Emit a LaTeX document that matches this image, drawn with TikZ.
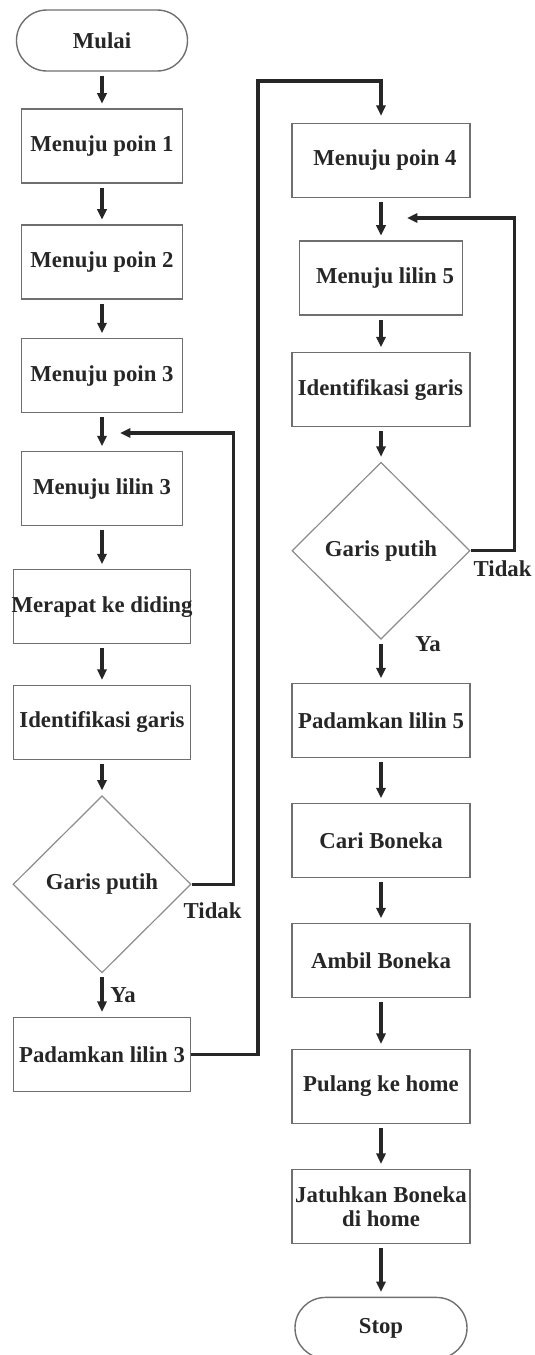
\documentclass[tikz,border=0pt]{standalone}
\usepackage{fontspec}
\setmainfont{Liberation Serif}
\usetikzlibrary{shapes.geometric,arrows.meta}
\definecolor{ink}{HTML}{262626}
\definecolor{edge}{HTML}{6F6F6F}
\begin{document}
\begin{tikzpicture}[x=0.25mm, y=-0.25mm, node distance=29mm,
  font=\bfseries\fontsize{16.2}{17}\selectfont, text=ink,
  >={Triangle[length=2.6mm,width=2.3mm]},
  box/.style={rectangle, draw=edge, line width=0.35mm, minimum width=40.25mm, minimum height=18.5mm, inner xsep=0.5mm},
  wide/.style={box, minimum width=44.25mm},
  term/.style={rectangle, rounded corners=7.6mm, draw=edge, line width=0.35mm, minimum width=42.75mm, minimum height=15.25mm},
  dec/.style={diamond, aspect=1, draw=edge!80, line width=0.3mm, minimum width=44.5mm, minimum height=44.25mm, inner sep=0pt},
  flow/.style={->, draw=ink, line width=0.85mm, shorten >=1.2mm, shorten <=1mm},
  back/.style={->, draw=ink, line width=0.85mm}]
  \useasboundingbox (0,0) rectangle (534,1355);
  % left column
  \node[term] (start) at (102,40.5) {Mulai};
  \node[box, below of=start, node distance=26.4mm] (p1) {Menuju poin 1};
  \node[box, below of=p1] (p2) {Menuju poin 2};
  \node[box, below of=p2, node distance=28.4mm] (p3) {Menuju poin 3};
  \node[box, below of=p3, node distance=28.25mm] (lil3) {Menuju lilin 3};
  \node[wide, below of=lil3, node distance=29.5mm] (wall) {\makebox[42mm]{Merapat ke diding}};
  \node[wide, below of=wall, node distance=28.9mm] (line1) {Identifikasi garis};
  \node[dec, below of=line1, node distance=40.5mm] (cek1) {Garis putih};
  \node[wide, below of=cek1, node distance=42.5mm] (mati3) {Padamkan lilin 3};
  % right column
  \node[wide, minimum width=44.5mm] (p4) at (381,160.5) {\hspace*{2mm}Menuju poin 4};
  \node[box, minimum width=40.75mm, below of=p4, node distance=29.4mm] (lil5) {\hspace*{2mm}Menuju lilin 5};
  \node[wide, minimum width=44.5mm, below of=lil5, node distance=27.9mm] (line2) {\makebox[41mm][r]{Identifikasi garis}};
  \node[dec, below of=line2, node distance=40.25mm] (cek2) {Garis putih};
  \node[wide, minimum width=44.5mm, below of=cek2, node distance=42.5mm] (mati5) {Padamkan lilin 5};
  \node[wide, minimum width=44.5mm, below of=mati5, node distance=30mm] (cari) {Cari Boneka};
  \node[wide, minimum width=44.5mm, below of=cari, node distance=30mm] (ambil) {Ambil Boneka};
  \node[wide, minimum width=44.5mm, below of=ambil, node distance=31.4mm] (home) {Pulang ke home};
  \node[wide, minimum width=44.5mm, below of=home, node distance=30mm, align=center] (drop) {Jatuhkan Boneka\\di home};
  \node[term, minimum width=43mm, below of=drop, node distance=30.4mm] (stop) {Stop};
  \coordinate (ret1) at (120,433);
  \coordinate (ret2) at (407,218);
  \coordinate (jump) at (258,81);
  \draw[flow] (start) -- (p1);
  \draw[flow] (p1) -- (p2);
  \draw[flow] (p2) -- (p3);
  \draw[flow] (p3) -- (lil3);
  \draw[flow] (lil3) -- (wall);
  \draw[flow] (wall) -- (line1);
  \draw[flow] (line1) -- (cek1);
  \draw[flow] (cek1) -- node[right=0.5mm] (ya1) {Ya} (mati3);
  \draw[back] (cek1.east) -- node[below=3mm] (no1) {Tidak} ++(42,0) |- (ret1);
  \draw[back, shorten >=1.75mm] (mati3.east) -| (jump) -| (p4);
  \draw[flow] (p4) -- (lil5);
  \draw[flow] (lil5) -- (line2);
  \draw[flow] (line2) -- (cek2);
  \draw[flow] (cek2) -- node[pos=0.1, right=7mm] (ya2) {Ya} (mati5);
  \draw[back] (cek2.east) -- node[below=1mm, xshift=2.5mm] (no2) {Tidak} ++(44,0) |- (ret2);
  \draw[flow] (mati5) -- (cari);
  \draw[flow] (cari) -- (ambil);
  \draw[flow] (ambil) -- (home);
  \draw[flow] (home) -- (drop);
  \draw[flow] (drop) -- (stop);
\end{tikzpicture}
\end{document}
